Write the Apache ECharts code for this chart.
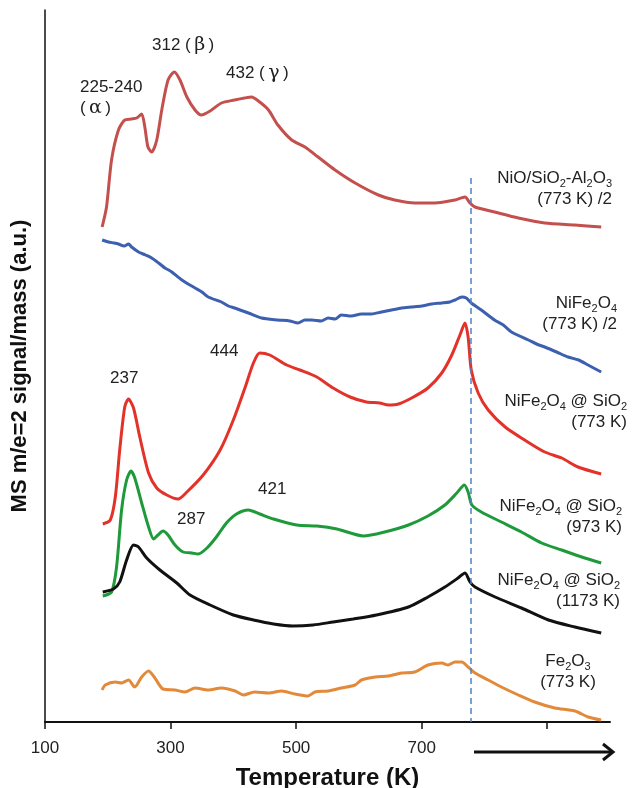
<!DOCTYPE html>
<html><head><meta charset="utf-8">
<script src="https://cdn.jsdelivr.net/npm/echarts@6/dist/echarts.min.js"></script>
<style>html,body{margin:0;padding:0;background:#fff}#c{width:632px;height:788px}</style>
</head><body><div id="c"></div>
<script>
// ---- data (temperature K, signal a.u.) ----
const xTickValues = [100, 300, 500, 700, 900];
const xLabelValues = [100, 300, 500, 700];
const dashedT = 778;

const nioSiAl = [[191,495],[198,515],[206,562],[217,592],[227,602],[238,603],[246,604],[254,608],[259,595],[264,575],[270,570],[278,582],[286,612],[296,642],[306,650],[315,642],[326,625],[339,612],[349,607],[363,611],[381,619],[402,622],[418,624],[429,625],[442,620],[456,612],[471,597],[493,582],[514,575],[535,565],[562,552],[594,539],[631,527],[657,522],[689,519],[721,519],[753,522],[769,525],[777,519],[785,515],[816,510],[854,504],[896,499],[944,497],[986,495]];

const nife2o4 = [[191,482],[201,480],[210,479],[217,478],[226,476],[233,478],[238,475],[249,470],[260,467],[270,464],[281,459],[291,454],[297,452],[302,450],[318,442],[339,434],[350,430],[360,425],[381,420],[392,416],[402,414],[424,409],[445,404],[471,402],[490,401],[503,399],[514,402],[525,402],[540,401],[551,404],[562,403],[572,407],[588,406],[604,408],[620,408],[636,410],[652,412],[668,414],[684,415],[700,416],[716,418],[732,419],[745,420],[753,422],[764,425],[771,424],[779,419],[795,412],[816,402],[830,397],[843,390],[870,382],[883,378],[896,375],[915,370],[933,365],[950,362],[965,357],[986,350]];

const siO2_773 = [[192,198],[204,202],[212,225],[219,272],[227,315],[233,323],[241,314],[251,285],[265,249],[278,234],[294,227],[312,223],[326,230],[352,247],[379,272],[400,302],[419,335],[432,359],[442,369],[458,367],[485,357],[506,352],[533,345],[559,334],[586,325],[612,320],[633,319],[647,317],[663,318],[684,324],[710,334],[732,349],[748,367],[761,387],[769,399],[774,385],[779,352],[790,329],[806,312],[833,295],[864,282],[896,270],[923,264],[949,255],[986,248]];

const siO2_973 = [[192,126],[206,130],[214,155],[222,212],[230,242],[237,251],[243,244],[254,219],[265,195],[273,183],[280,187],[288,191],[296,187],[307,177],[320,170],[334,169],[344,168],[358,174],[373,185],[389,199],[405,208],[424,212],[442,208],[464,203],[501,197],[533,196],[565,193],[607,186],[641,190],[679,197],[710,206],[737,217],[756,229],[768,237],[774,230],[780,217],[795,210],[827,200],[859,190],[891,179],[923,172],[955,165],[986,159]];

const siO2_1173 = [[192,130],[209,133],[219,140],[230,162],[241,177],[249,175],[262,164],[283,152],[310,139],[331,127],[363,117],[400,107],[432,102],[464,98],[495,96],[527,97],[559,100],[591,103],[628,107],[679,115],[710,125],[737,135],[758,144],[769,149],[777,140],[785,135],[817,125],[859,114],[902,102],[944,95],[986,89]];

const fe2o3 = [[191,32],[196,37],[212,40],[222,39],[233,42],[243,35],[254,45],[265,51],[275,44],[288,33],[307,32],[323,30],[339,34],[360,32],[381,34],[403,31],[416,27],[434,30],[456,29],[477,31],[498,28],[519,26],[530,30],[551,31],[572,34],[594,37],[604,42],[626,45],[647,46],[668,49],[689,50],[710,57],[732,59],[742,57],[753,60],[764,60],[774,55],[785,49],[806,42],[827,35],[854,27],[880,20],[912,14],[944,11],[965,5],[986,2]];

// ---- chart ----
const F = '"Liberation Sans", Arial, Helvetica, sans-serif';
const chart = echarts.init(document.getElementById('c'), null, {renderer: 'canvas'});

const rich = {
  s: {fontSize: 11, fontFamily: F, lineHeight: 11, verticalAlign: 'bottom', fill: '#222'},
  g: {fontSize: 19, fontFamily: '"DejaVu Serif", serif', fill: '#222'}
};
function txt(x, y, text, align) {
  return {
    type: 'text', x: x, y: y, silent: true,
    style: {
      text: text, fontSize: 17, fontFamily: F, fill: '#222',
      align: align || 'left', verticalAlign: 'middle', lineHeight: 21, rich: rich
    }
  };
}

function line(name, data, color) {
  return {
    name: name, type: 'line', data: data, showSymbol: false, smooth: 0.25,
    lineStyle: {width: 3, color: color}, itemStyle: {color: color}, z: 3
  };
}

const series = [
  line('NiO/SiO2-Al2O3', nioSiAl, '#C4504E'),
  line('NiFe2O4', nife2o4, '#3C5FAF'),
  line('NiFe2O4@SiO2 773', siO2_773, '#E3322A'),
  line('NiFe2O4@SiO2 973', siO2_973, '#1E9A3A'),
  line('NiFe2O4@SiO2 1173', siO2_1173, '#111111'),
  line('Fe2O3', fe2o3, '#E28A3A')
];
series[0].markLine = {
  silent: true, symbol: ['none', 'none'], label: {show: false},
  lineStyle: {type: [6, 4], color: '#4F83C9', width: 1.5},
  data: [[{coord: [dashedT, 544]}, {coord: [dashedT, 0]}]]
};

chart.setOption({
  animation: false,
  backgroundColor: '#fff',
  grid: {left: 45, right: 22, top: 10, bottom: 66, outerBoundsMode: 'none', containLabel: false},
  xAxis: {
    type: 'value', min: 100, max: 1000, interval: 200,
    name: 'Temperature (K)', nameLocation: 'middle', nameGap: 44,
    nameTextStyle: {fontFamily: F, fontWeight: 'bold', fontSize: 24, color: '#111'},
    axisLine: {lineStyle: {color: '#111', width: 2}},
    axisTick: {show: true, customValues: xTickValues, length: 7, lineStyle: {color: '#111', width: 1.5}},
    axisLabel: {customValues: xLabelValues, fontFamily: F, fontSize: 17, color: '#222', margin: 18},
    splitLine: {show: false}
  },
  yAxis: {
    type: 'value', min: 0, max: 712,
    name: 'MS m/e=2 signal/mass (a.u.)', nameLocation: 'middle', nameGap: 14,
    nameTextStyle: {fontFamily: F, fontWeight: 'bold', fontSize: 22, color: '#111'},
    axisLine: {show: true, lineStyle: {color: '#111', width: 1.5}},
    axisTick: {show: false}, axisLabel: {show: false}, splitLine: {show: false}
  },
  series: series,
  graphic: [
    txt(80, 98, '225-240\n(\u2009{g|α}\u2009)'),
    txt(152, 45, '312 (\u2009{g|β}\u2009)'),
    txt(226, 73, '432 (\u2009{g|γ}\u2009)'),
    txt(110, 378, '237'),
    txt(210, 351, '444'),
    txt(177, 519, '287'),
    txt(258, 489, '421'),
    txt(612, 189, 'NiO/SiO{s|2}-Al{s|2}O{s|3}\n(773 K) /2', 'right'),
    txt(617, 314, 'NiFe{s|2}O{s|4}\n(773 K) /2', 'right'),
    txt(627, 412, 'NiFe{s|2}O{s|4} @ SiO{s|2}\n(773 K)', 'right'),
    txt(622, 517, 'NiFe{s|2}O{s|4} @ SiO{s|2}\n(973 K)', 'right'),
    txt(620, 591, 'NiFe{s|2}O{s|4} @ SiO{s|2}\n(1173 K)', 'right'),
    txt(568, 672, 'Fe{s|2}O{s|3}\n(773 K)', 'center'),
    {type: 'line', silent: true, shape: {x1: 474, y1: 752, x2: 612, y2: 752}, style: {stroke: '#111', lineWidth: 3}},
    {type: 'polyline', silent: true, shape: {points: [[603, 744], [613, 752], [603, 760]]}, style: {stroke: '#111', lineWidth: 3, fill: null}}
  ]
});
</script>
</body></html>
